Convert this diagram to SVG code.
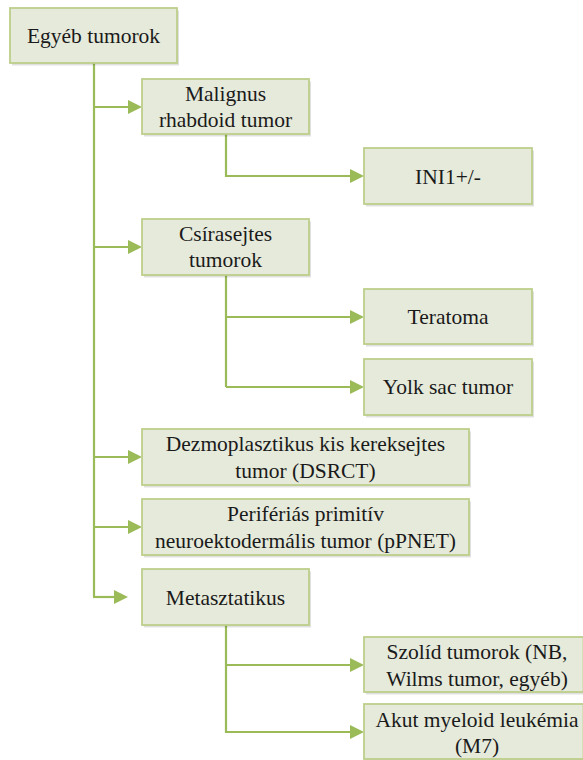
<svg xmlns="http://www.w3.org/2000/svg" width="583" height="760" viewBox="0 0 583 760">
<style>
.box{fill:#e6eadb;stroke:#bccf8a;stroke-width:1.8}
.sh{fill:#000;fill-opacity:0.12}
.t{font-family:'Liberation Serif',serif;font-size:21.5px;fill:#1a1a1a;text-anchor:middle}
.ln{fill:none;stroke:#9bbb59;stroke-width:2.2}
.ah{fill:#9bbb59}
</style>
<rect width="583" height="760" fill="#fff"/>
<g id="connectors">
<path class="ln" d="M94 63 V597"/>
<path class="ln" d="M94 107 H129"/><polygon class="ah" points="128,100 142,107 128,114"/>
<path class="ln" d="M94 247 H129"/><polygon class="ah" points="128,240 142,247 128,254"/>
<path class="ln" d="M94 457 H129"/><polygon class="ah" points="128,450 142,457 128,464"/>
<path class="ln" d="M94 527 H129"/><polygon class="ah" points="128,520 142,527 128,534"/>
<path class="ln" d="M93 597 H115"/><polygon class="ah" points="114,590 128,597 114,604"/>
<path class="ln" d="M226 134 V176 H351"/><polygon class="ah" points="350,169 364,176 350,183"/>
<path class="ln" d="M226 275 V387"/>
<path class="ln" d="M226 317 H351"/><polygon class="ah" points="350,310 364,317 350,324"/>
<path class="ln" d="M226 387 H351"/><polygon class="ah" points="350,380 364,387 350,394"/>
<path class="ln" d="M226 625 V732 H351"/>
<path class="ln" d="M226 665 H351"/><polygon class="ah" points="350,658 364,665 350,672"/>
<polygon class="ah" points="350,725 364,732 350,739"/>
</g>
<g id="root"><rect class="sh" x="12" y="10.5" width="167" height="55"/><rect class="box" x="10" y="8" width="167" height="55"/><text class="t" x="93.5" y="43">Egyéb tumorok</text></g>
<g id="malignus"><rect class="sh" x="144" y="81.5" width="167" height="55"/><rect class="box" x="142" y="79" width="167" height="55"/><text class="t" x="225.5" y="100.5">Malignus</text><text class="t" x="225.5" y="126.5">rhabdoid tumor</text></g>
<g id="ini1"><rect class="sh" x="366" y="150.5" width="168" height="56"/><rect class="box" x="364" y="148" width="168" height="56"/><text class="t" x="448" y="184">INI1+/-</text></g>
<g id="csirasejtes"><rect class="sh" x="144" y="221.5" width="167" height="56"/><rect class="box" x="142" y="219" width="167" height="56"/><text class="t" x="225.5" y="240.5">Csírasejtes</text><text class="t" x="225.5" y="266.5">tumorok</text></g>
<g id="teratoma"><rect class="sh" x="366" y="291.5" width="168" height="55"/><rect class="box" x="364" y="289" width="168" height="55"/><text class="t" x="448" y="324">Teratoma</text></g>
<g id="yolk"><rect class="sh" x="366" y="361.5" width="168" height="56"/><rect class="box" x="364" y="359" width="168" height="56"/><text class="t" x="448" y="394">Yolk sac tumor</text></g>
<g id="dsrct"><rect class="sh" x="144" y="431.5" width="327" height="56"/><rect class="box" x="142" y="429" width="327" height="56"/><text class="t" x="305.5" y="451">Dezmoplasztikus kis kereksejtes</text><text class="t" x="305.5" y="477.5">tumor (DSRCT)</text></g>
<g id="ppnet"><rect class="sh" x="144" y="501.5" width="327" height="56"/><rect class="box" x="142" y="499" width="327" height="56"/><text class="t" x="305.5" y="521">Perifériás primitív</text><text class="t" x="305.5" y="547.5">neuroektodermális tumor (pPNET)</text></g>
<g id="metasztatikus"><rect class="sh" x="144" y="571.5" width="167" height="56"/><rect class="box" x="142" y="569" width="167" height="56"/><text class="t" x="225.5" y="605">Metasztatikus</text></g>
<g id="szolid"><rect class="sh" x="366" y="639.5" width="219.5" height="55"/><rect class="box" x="364" y="637" width="219.5" height="55"/><text class="t" x="477" y="658.5">Szolíd tumorok (NB,</text><text class="t" x="477" y="685.5">Wilms tumor, egyéb)</text></g>
<g id="aml"><rect class="sh" x="366" y="706.5" width="219.5" height="55"/><rect class="box" x="364" y="704" width="219.5" height="55"/><text class="t" x="477" y="726.5">Akut myeloid leukémia</text><text class="t" x="477" y="753">(M7)</text></g>
</svg>
